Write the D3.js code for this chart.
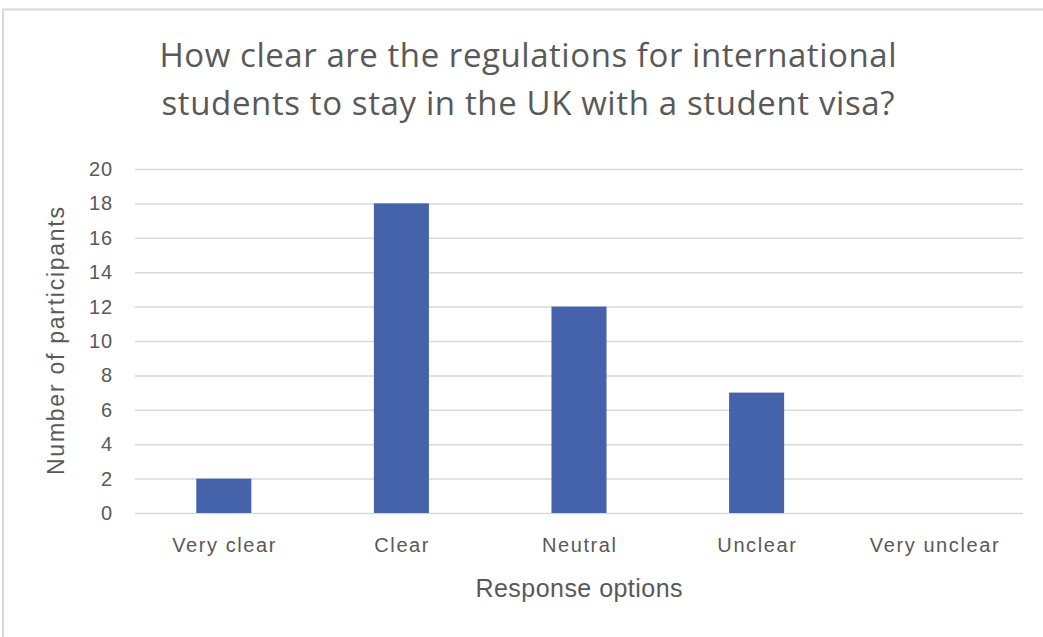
<!DOCTYPE html>
<html>
<head>
<meta charset="utf-8">
<script src="https://cdn.jsdelivr.net/npm/d3@7"></script>
<style>
  html, body { margin: 0; padding: 0; background: #fff; }
  svg { display: block; }
  text { fill: #595959; }
</style>
</head>
<body>
<svg id="chart" width="1043" height="637"></svg>
<script>
// Survey responses
const categories = ["Very clear", "Clear", "Neutral", "Unclear", "Very unclear"];
const participants = [2, 18, 12, 7, 0];
const yTicks = [0, 2, 4, 6, 8, 10, 12, 14, 16, 18, 20];
const titleLines = [
  "How clear are the regulations for international",
  "students to stay in the UK with a student visa?"
];
const xAxisTitle = "Response options";
const yAxisTitle = "Number of participants";

const svg = d3.select("#chart");
const W = 1043, H = 637;
const plot = { left: 135, right: 1023, top: 169, bottom: 513 };
const titleFont = "'Open Sans', 'Noto Sans', sans-serif";
const labelFont = "'Liberation Sans', Arial, sans-serif";

// widen a label by letter spacing until it reaches the wanted width
function fitWidth(sel, width) {
  sel.each(function () {
    const n = this.getNumberOfChars();
    const natural = this.getComputedTextLength();
    if (n > 1 && width > natural) {
      const ls = (width - natural) / (n - 1);
      d3.select(this).attr("letter-spacing", ls);
      if (d3.select(this).attr("text-anchor") === "middle") d3.select(this).attr("dx", ls / 2);
    }
  });
}

// chart frame
svg.append("rect")
  .attr("x", 3).attr("y", 9.5)
  .attr("width", W + 10).attr("height", H + 10)
  .attr("fill", "#fff").attr("stroke", "#d9d9d9").attr("stroke-width", 2);

const x = d3.scaleBand()
  .domain(categories)
  .range([plot.left, plot.right])
  .paddingInner(0.69).paddingOuter(0.345);

const y = d3.scaleLinear().domain([0, 20]).range([plot.bottom, plot.top]);

// gridlines + y labels
const yAxis = d3.axisLeft(y).tickValues(yTicks)
  .tickSize(-(plot.right - plot.left)).tickPadding(23);
const gy = svg.append("g").attr("transform", `translate(${plot.left},0)`).call(yAxis);
gy.select(".domain").remove();
gy.selectAll(".tick line").attr("stroke", "#d9d9d9").attr("stroke-width", 1.5);
gy.selectAll(".tick text").attr("font-size", 20).style("fill", "#595959")
  .attr("font-family", labelFont).attr("letter-spacing", 0.8).attr("dx", 0.8);

// bars
svg.append("g").selectAll("rect")
  .data(categories.map((c, i) => ({ c, v: participants[i] })))
  .join("rect")
  .attr("x", d => x(d.c))
  .attr("width", x.bandwidth())
  .attr("y", d => y(d.v))
  .attr("height", d => y(0) - y(d.v))
  .attr("fill", "#4563AA");

// x labels
const xAxis = d3.axisBottom(x).tickSize(0).tickPadding(25);
const gx = svg.append("g").attr("transform", `translate(0,${plot.bottom})`).call(xAxis);
gx.select(".domain").remove();
gx.selectAll(".tick text").attr("font-size", 20).style("fill", "#595959")
  .attr("font-family", labelFont).attr("letter-spacing", 1.6).attr("dx", 0.8);

// axis titles
svg.append("text")
  .attr("x", (plot.left + plot.right) / 2).attr("y", 597)
  .attr("text-anchor", "middle").attr("font-size", 25)
  .attr("font-family", labelFont)
  .text(xAxisTitle)
  .call(fitWidth, 207);

svg.append("text")
  .attr("transform", `translate(64,341) rotate(-90)`)
  .attr("text-anchor", "middle").attr("font-size", 23)
  .attr("font-family", labelFont)
  .text(yAxisTitle)
  .call(fitWidth, 268);

// title
titleLines.forEach((t, i) => {
  svg.append("text")
    .attr("x", 528).attr("y", 67 + i * 48)
    .attr("text-anchor", "middle").attr("font-size", 33)
    .attr("font-family", titleFont)
    .text(t)
    .call(fitWidth, i === 0 ? 737 : 733);
});
</script>
</body>
</html>
